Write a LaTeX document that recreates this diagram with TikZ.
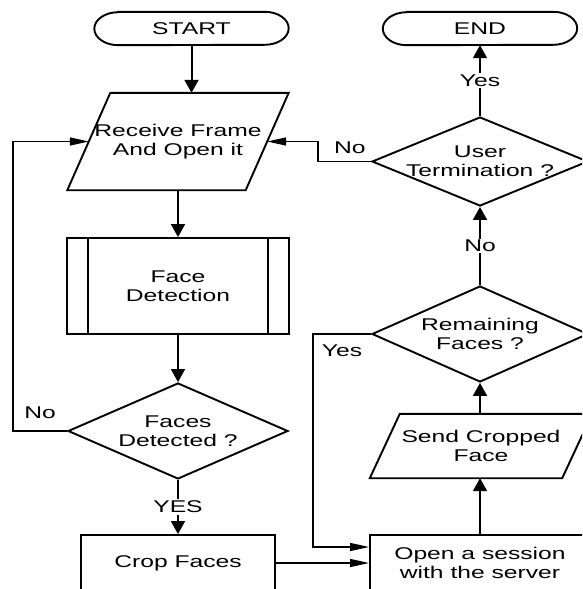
\documentclass[tikz,border=0pt]{standalone}
\usepackage{fontspec}
\newfontfamily\chartfont[FakeStretch=1.45]{Liberation Sans}
\usetikzlibrary{shapes.geometric,arrows.meta}

\begin{document}
\begin{tikzpicture}[x=1pt,y=-1pt,
  every node/.style={font=\chartfont\fontsize{17}{19}\selectfont, align=center, inner sep=0pt},
  box/.style={draw, line width=1.9pt, fill=white},
  capsule/.style={minimum width=194pt, minimum height=33pt},
  procbox/.style={box, rectangle},
  iobox/.style={rectangle},
  decision/.style={box, diamond, label={[align=center]center:#1}},
  outline/.style={line width=1.9pt},
  flowv/.style={line width=2pt, -{Triangle[length=13pt,width=14pt]}},
  flowh/.style={line width=1.4pt, -{Triangle[length=19pt,width=8pt]}},
  lbl/.style={fill=white, inner sep=1.5pt}
]
\useasboundingbox (0,0) rectangle (582,589);
\fill[white] (0,0) rectangle (582,589);
\clip (0,0) rectangle (582,589);

% left column
\node[capsule] (start) at (191.5,28.5) {START};
\node[iobox, minimum width=178pt, minimum height=97pt] (recv) at (178,141.5)
  {Receive Frame\\And Open it};
\node[procbox, minimum width=222pt, minimum height=96pt] (fdet) at (178,286)
  {Face\\Detection};
\node[decision={Faces\\Detected ?}, minimum width=220pt, minimum height=96pt]
  (fdec) at (178,431) {};
\node[procbox, minimum width=194pt, minimum height=56pt] (crop) at (178,563)
  {Crop Faces};

% right column
\node[capsule] (end) at (480,28.5) {END};
\node[decision={User\\Termination ?}, minimum width=216pt, minimum height=89pt]
  (term) at (480,161.5) {};
\node[decision={Remaining\\Faces ?}, minimum width=216pt, minimum height=96pt]
  (rem) at (480,334) {};
\node[iobox, minimum width=192pt, minimum height=64pt] (send) at (481,446)
  {Send Cropped\\Face};
\node[procbox, minimum width=220pt, minimum height=56pt] (open) at (480,563)
  {Open a session\\with the server};

% capsule outlines for the terminals
\draw[outline] ([xshift=24pt]start.north west) -- ([xshift=-24pt]start.north east)
  arc[start angle=90, end angle=-90, x radius=24pt, y radius=16.5pt]
  -- ([xshift=24pt]start.south west)
  arc[start angle=270, end angle=90, x radius=24pt, y radius=16.5pt] -- cycle;
\draw[outline] ([xshift=24pt]end.north west) -- ([xshift=-24pt]end.north east)
  arc[start angle=90, end angle=-90, x radius=24pt, y radius=16.5pt]
  -- ([xshift=24pt]end.south west)
  arc[start angle=270, end angle=90, x radius=24pt, y radius=16.5pt] -- cycle;

% slanted outlines of the input/output boxes
\draw[outline, line join=miter] ([xshift=21.5pt]recv.north west) -- ([xshift=21.5pt]recv.north east)
  -- ([xshift=-21.5pt]recv.south east) -- ([xshift=-21.5pt]recv.south west) -- cycle;
\draw[outline, line join=miter] ([xshift=15pt]send.north west) -- ([xshift=15pt]send.north east)
  -- ([xshift=-15pt]send.south east) -- ([xshift=-15pt]send.south west) -- cycle;

% predefined-process side bars
\draw[outline] ([xshift=22pt]fdet.north west) -- ([xshift=22pt]fdet.south west);
\draw[outline] ([xshift=-22pt]fdet.north east) -- ([xshift=-22pt]fdet.south east);

% loop columns
\coordinate (lx) at (13,0);
\coordinate (rx) at (318,0);
\coordinate (yx) at (313,0);

% main flow
\draw[flowv] (start.south) -- (start.south |- recv.north);
\draw[flowv] (recv.south) -- (fdet.north);
\draw[flowv] (fdet.south) -- (fdec.north);
\draw[flowv] (fdec.south) -- node[lbl]{YES} (crop.north);
\draw[flowh] (crop.east) -- (crop.east -| open.west);
\draw[flowv] (open.north) -- (open.north |- send.south);
\draw[flowv] (rem.south |- send.north) -- (rem.south);
\draw[flowv] (rem.north) -- node[lbl]{No} (term.south);
\draw[flowv] (term.north) -- node[lbl]{Yes} (end.south);

% return paths
\draw[flowh] (fdec.west) -- node[above=12pt]{No} (fdec.west -| lx) |- (recv.west);
\draw[flowh] (term.west) -- node[pos=0.4, above=7pt]{No} (term.west -| rx) |- (recv.east);
\draw[flowh] (rem.west) -- node[below=10pt]{Yes} (rem.west -| yx)
  |- ([yshift=16pt]open.west);
\end{tikzpicture}
\end{document}
